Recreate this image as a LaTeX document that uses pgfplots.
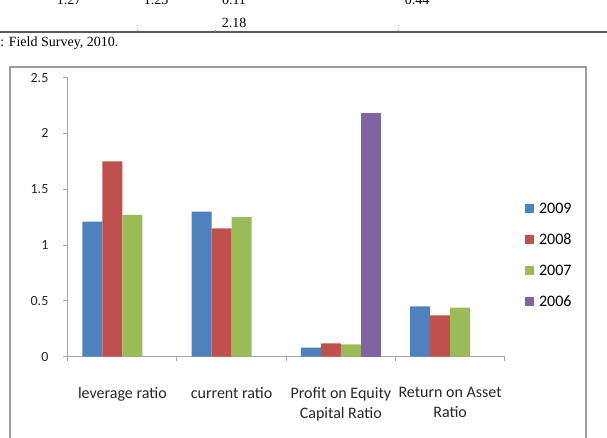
\documentclass[border=0pt]{standalone}
\usepackage{fontspec}
\setmainfont{Carlito}
\newfontfamily\serif{Liberation Serif}
\usepackage{pgfplots}
\pgfplotsset{compat=1.18}
\definecolor{cA}{HTML}{4F81BD}
\definecolor{cB}{HTML}{C0504D}
\definecolor{cC}{HTML}{9BBB59}
\definecolor{cD}{HTML}{8064A2}
\definecolor{axgray}{HTML}{A6A6A6}
\definecolor{boxgray}{HTML}{9C9C9C}
\pgfplotsset{sqlegend/.style={legend image code/.code={\fill[##1,draw=none] (0pt,-3.4pt) rectangle (6.8pt,3.4pt);\path (10.6pt,0pt);}}}
\begin{document}
\begin{tikzpicture}[x=0.75pt,y=0.75pt]
\path[use as bounding box] (0,0) rectangle (607,437);
\begin{scope}
\clip (0,0) rectangle (607,437);
% fragment of the table above the chart
\draw[black!65, line width=0.8pt] (0,405) -- (607,405);
\foreach \xx in {137,215,398} \draw[black!50, line width=0.5pt] (\xx,405) -- (\xx,407.5);
\foreach \xx/\tt in {69/1.27,156/1.25,234/0.11,417/0.44}
  \node[anchor=base, inner sep=0pt, font=\serif\fontsize{10.5}{12}\selectfont] at (\xx,433) {\tt};
\node[anchor=base, inner sep=0pt, font=\serif\fontsize{10.5}{12}\selectfont] at (234,409.3) {2.18};
\node[anchor=base west, inner sep=0pt, font=\serif\fontsize{10.5}{12}\selectfont] at (0,390.3) {: Field Survey, 2010.};
% chart frame
\draw[boxgray, line width=1.3pt] (10,-5) -- (10,370) -- (586,370) -- (586,-5);
\end{scope}
\begin{axis}[
  at={(62,72)}, anchor=south west,
  scale only axis,
  width=327.75pt, height=209.25pt,
  xmin=-0.5, xmax=3.5,
  ymin=0, ymax=2.5,
  ytick={0,0.5,1,1.5,2,2.5},
  xtick={-0.5,0.5,1.5,2.5,3.5},
  xticklabels={},
  extra x ticks={0,1,2,3},
  extra x tick labels={leverage ratio,current ratio,Profit on Equity\\Capital Ratio,Return on Asset\\Ratio},
  extra x tick style={tick style={draw=none}, xticklabel style={yshift=-16pt}},
  axis x line*=bottom, axis y line*=left,
  axis line style={axgray, line width=0.75pt},
  tick style={axgray, line width=0.75pt},
  tick align=outside,
  major tick length=3.5pt,
  /pgf/number format/assume math mode=true,
  yticklabel style={font=\fontsize{10.5}{12}\selectfont, text=black!85, xshift=-7.5pt},
  xticklabel style={font=\fontsize{12}{15}\selectfont, text=black!85, align=center},
  ybar=0pt, bar width=15pt,
  enlargelimits=false,
  legend cell align=left,
  legend style={draw=none, fill=none, at={(axis description cs:1.0366,0.3655)}, anchor=west,
    font=\fontsize{12}{13}\selectfont, row sep=15.3pt,
    nodes={inner sep=0pt, text height=8pt, text depth=0pt}},
]
\addplot[fill=cA, draw=none, sqlegend] coordinates {(0,1.21) (1,1.30) (2,0.08) (3,0.45)};
\addplot[fill=cB, draw=none, sqlegend] coordinates {(0,1.75) (1,1.15) (2,0.12) (3,0.37)};
\addplot[fill=cC, draw=none, sqlegend] coordinates {(0,1.27) (1,1.25) (2,0.11) (3,0.44)};
\addplot[fill=cD, draw=none, sqlegend] coordinates {(2,2.18)};
\legend{2009,2008,2007,2006}
\end{axis}
\end{tikzpicture}
\end{document}
